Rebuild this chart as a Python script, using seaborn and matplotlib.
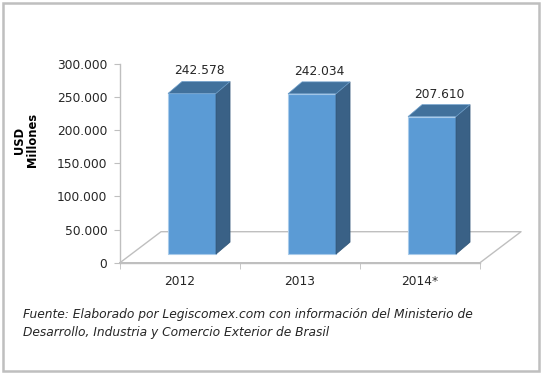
import matplotlib
matplotlib.use("Agg")
import matplotlib.pyplot as plt
from matplotlib.patches import Polygon, Rectangle
from matplotlib.ticker import FixedLocator, FuncFormatter
import seaborn as sns
import pandas as pd

# ---- data ----
years = ["2012", "2013", "2014*"]
values = [242578, 242034, 207610]
value_labels = ["242.578", "242.034", "207.610"]
yticks = [0, 50000, 100000, 150000, 200000, 250000, 300000]

df = pd.DataFrame({"year": years, "value": values})

# ---- style ----
sns.set_style("white")
plt.rcParams["font.family"] = ["DejaVu Sans"]

FRONT = "#5B9BD5"
TOP = "#41719C"
SIDE = "#3A6186"
GRID = "#BFBFBF"
TEXT = "#262626"

fig = plt.figure(figsize=(5.41, 3.73), dpi=100)
ax = fig.add_axes([120 / 541, (373 - 262.7) / 373, 360 / 541, (262.7 - 64) / 373])

sns.barplot(data=df, x="year", y="value", color=FRONT, width=0.4,
            saturation=1, edgecolor="#A9CBEA", linewidth=0.8, ax=ax, zorder=3)

ax.set_xlim(-0.5, 2.5)
ax.set_ylim(0, 300000)

# 3D look parameters
bar_base = 13000
shift = 0.1
dx, dy = 0.117, 18000
fdx, fdy = 0.342, 46800

# floor
floor = [(-0.5, 0), (2.5, 0), (2.5 + fdx, fdy), (-0.5 + fdx, fdy), (-0.5, 0)]
ax.plot([p[0] for p in floor], [p[1] for p in floor], color=GRID, lw=1.0,
        clip_on=False, zorder=1)

for p, v, lab in zip(ax.patches, values, value_labels):
    p.set_x(p.get_x() + shift)
    p.set_y(bar_base)
    x0 = p.get_x()
    x1 = x0 + p.get_width()
    top = bar_base + p.get_height()
    side = Polygon([(x1, bar_base), (x1 + dx, bar_base + dy), (x1 + dx, top + dy), (x1, top)],
                   closed=True, facecolor=SIDE, edgecolor="#2F5577", lw=0.5,
                   clip_on=False, zorder=3)
    topf = Polygon([(x0, top), (x1, top), (x1 + dx, top + dy), (x0 + dx, top + dy)],
                   closed=True, facecolor=TOP, edgecolor="#6FA0CC", lw=0.5,
                   clip_on=False, zorder=3)
    ax.add_patch(side)
    ax.add_patch(topf)
    ax.text((x0 + x1) / 2 + dx * 0.55, v + 47000, lab, ha="center", va="center",
            fontsize=8.8, color=TEXT, clip_on=False)

# axes styling
for s in ["top", "right"]:
    ax.spines[s].set_visible(False)
for s in ["left", "bottom"]:
    ax.spines[s].set_color(GRID)
    ax.spines[s].set_linewidth(1.0)

ax.yaxis.set_major_locator(FixedLocator(yticks))
ax.yaxis.set_major_formatter(FuncFormatter(
    lambda v, pos: "0" if v == 0 else f"{int(v):,}".replace(",", ".")))
ax.tick_params(axis="y", which="major", left=True, length=4, color=GRID,
               labelsize=8.8, labelcolor=TEXT, pad=5, direction="out")
ax.tick_params(axis="x", which="major", bottom=False, length=0, labelsize=8.8,
               labelcolor=TEXT, pad=9)
ax.set_xticks([-0.5, 0.5, 1.5, 2.5], minor=True)
ax.tick_params(axis="x", which="minor", bottom=True, length=4, color=GRID,
               direction="out")
ax.set_xlabel("")
ax.set_ylabel("USD\nMillones", fontsize=8.3, fontweight="bold", color="black",
              linespacing=1.0)
ax.yaxis.set_label_coords(-0.225, 0.617)
ax.grid(False)

# footnote
fig.text(23 / 541, 1 - 323.5 / 373,
         "Fuente: Elaborado por Legiscomex.com con información del Ministerio de\n"
         "Desarrollo, Industria y Comercio Exterior de Brasil",
         ha="left", va="center", fontsize=8.8, style="italic", color=TEXT,
         linespacing=1.45)

# outer border
fig.patches.append(Rectangle((2.5 / 541, 2 / 373), 536 / 541, 368 / 373,
                             transform=fig.transFigure, fill=False,
                             edgecolor=GRID, lw=1.8))

fig.savefig("out.png", dpi=100)
